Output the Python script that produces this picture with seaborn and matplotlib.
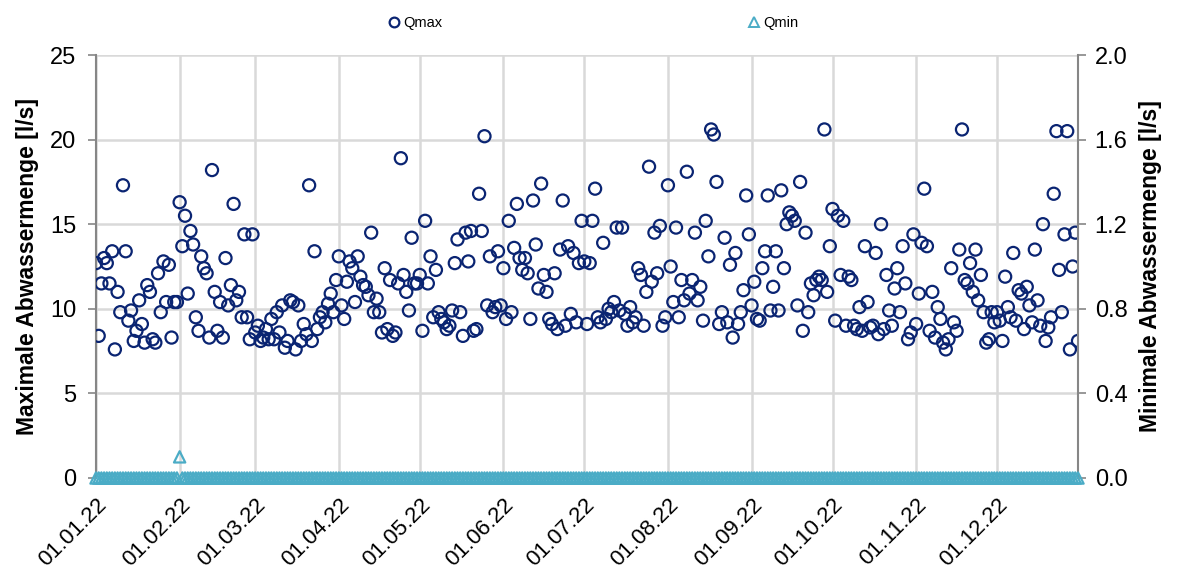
import numpy as np
import pandas as pd
import matplotlib
matplotlib.use("Agg")
import matplotlib.pyplot as plt
import matplotlib.dates as mdates
from matplotlib.lines import Line2D
from matplotlib.ticker import FormatStrFormatter
import seaborn as sns

# daily maximum flow [l/s]
jan = [12.7, 8.4, 11.5, 13.0, 12.7, 11.5, 13.4, 7.6, 11.0, 9.8, 17.3, 13.4, 9.3, 9.9, 8.1, 8.7,
       10.5, 9.1, 8.0, 11.4, 11.0, 8.2, 8.0, 12.1, 9.8, 12.8, 10.4, 12.6, 8.3, 10.4, 10.4]
feb = [16.3, 13.7, 15.5, 10.9, 14.6, 13.8, 9.5, 8.7, 13.1, 12.4, 12.1, 8.3, 18.2, 11.0, 8.7, 10.4,
       8.3, 13.0, 10.2, 11.4, 16.2, 10.5, 11.0, 9.5, 14.4, 9.5, 8.2, 14.4]
mar = [8.6, 9.0, 8.1, 8.3, 8.8, 8.2, 9.4, 8.2, 9.8, 8.6, 10.2, 7.7, 8.1, 10.5, 10.4, 7.6,
       10.2, 8.1, 9.1, 8.5, 17.3, 8.1, 13.4, 8.8, 9.5, 9.8, 9.2, 10.3, 10.9, 9.8, 11.7]
apr = [13.1, 10.2, 9.4, 11.6, 12.8, 12.4, 10.4, 13.1, 11.9, 11.4, 11.3, 10.8, 14.5, 9.8, 10.6,
       9.8, 8.6, 12.4, 8.8, 11.7, 8.4, 8.6, 11.5, 18.9, 12.0, 11.0, 9.9, 14.2, 11.5, 11.5]
may = [12.0, 8.7, 15.2, 11.5, 13.1, 9.5, 12.3, 9.8, 9.4, 9.2, 8.8, 9.0, 9.9, 12.7, 14.1, 9.8,
       8.4, 14.5, 12.8, 14.6, 8.7, 8.8, 16.8, 14.6, 20.2, 10.2, 13.1, 9.8, 10.1, 13.4, 10.2]
jun = [12.4, 9.4, 15.2, 9.8, 13.6, 16.2, 13.0, 12.3, 13.0, 12.1, 9.4, 16.4, 13.8, 11.2, 17.4,
       12.0, 11.0, 9.4, 9.1, 12.1, 8.8, 13.5, 16.4, 9.0, 13.7, 9.7, 13.3, 9.2, 12.7, 15.2]
jul = [12.8, 9.1, 12.7, 15.2, 17.1, 9.5, 9.2, 13.9, 9.4, 10.0, 9.8, 10.4, 14.8, 9.9, 14.8, 9.7,
       9.0, 10.1, 9.2, 9.5, 12.4, 12.0, 9.0, 11.0, 18.4, 11.6, 14.5, 12.1, 14.9, 9.0, 9.5]
aug = [17.3, 12.5, 10.4, 14.8, 9.5, 11.7, 10.5, 18.1, 10.9, 11.7, 14.5, 10.5, 11.3, 9.3, 15.2,
       13.1, 20.6, 20.3, 17.5, 9.1, 9.8, 14.2, 9.2, 12.6, 8.3, 13.3, 9.1, 9.8, 11.1, 16.7, 14.4]
sep = [10.2, 11.6, 9.4, 9.3, 12.4, 13.4, 16.7, 9.9, 11.3, 13.4, 9.9, 17.0, 12.4, 15.0, 15.7,
       15.5, 15.2, 10.2, 17.5, 8.7, 14.5, 9.8, 11.5, 10.8, 11.7, 11.9, 11.7, 20.6, 11.0, 13.7]
oct_ = [15.9, 9.3, 15.5, 12.0, 15.2, 9.0, 11.9, 11.7, 9.0, 8.8, 10.1, 8.7, 13.7, 10.4, 8.9, 9.0,
        13.3, 8.5, 15.0, 8.8, 12.0, 9.9, 9.0, 11.2, 12.4, 9.8, 13.7, 11.5, 8.2, 8.6, 14.4]
nov = [9.1, 10.9, 13.9, 17.1, 13.7, 8.7, 11.0, 8.3, 10.1, 9.4, 8.0, 7.6, 8.2, 12.4, 9.2, 8.7,
       13.5, 20.6, 11.7, 11.5, 12.7, 11.0, 13.5, 10.5, 12.0, 9.8, 8.0, 8.2, 9.8, 9.2]
dec = [9.8, 9.3, 8.1, 11.9, 10.1, 9.5, 13.3, 9.3, 11.1, 10.9, 8.8, 11.3, 10.2, 9.2, 13.5, 10.5,
       9.0, 15.0, 8.1, 8.9, 9.5, 16.8, 20.5, 12.3, 9.8, 14.4, 20.5, 7.6, 12.5, 14.5, 8.1]

# daily minimum flow [l/s]: zero every day except 01.02.22
qmin_peak_day = "2022-02-01"
qmin_peak_value = 0.1

dates = pd.date_range("2022-01-01", "2022-12-31", freq="D")
qmax = jan + feb + mar + apr + may + jun + jul + aug + sep + oct_ + nov + dec
qmin = np.zeros(len(dates))
qmin[dates == pd.Timestamp(qmin_peak_day)] = qmin_peak_value

df = pd.DataFrame({"Datum": dates, "Qmax": qmax, "Qmin": qmin})

navy = "#0a2472"
aqua = "#4bacc6"
grey = "#868686"

sns.set_theme(style="white")
plt.rcParams["font.family"] = ["Liberation Sans", "DejaVu Sans"]
plt.rcParams["text.color"] = "black"
plt.rcParams["axes.labelcolor"] = "black"
plt.rcParams["xtick.color"] = "black"
plt.rcParams["ytick.color"] = "black"

fig = plt.figure(figsize=(11.77, 5.78), dpi=100)
ax = fig.add_axes([96 / 1177, 1 - 478 / 578, (1078 - 96) / 1177, (478 - 55) / 578])
ax2 = ax.twinx()

sns.scatterplot(data=df, x="Datum", y="Qmax", ax=ax, marker="o", s=76,
                fc="none", ec=navy, linewidth=1.6, legend=False, zorder=3)
sns.scatterplot(data=df, x="Datum", y="Qmin", ax=ax2, marker="^", s=66,
                fc="none", ec=aqua, linewidth=1.6, legend=False, clip_on=False, zorder=3)

ax.set_xlim(pd.Timestamp("2022-01-01"), pd.Timestamp("2022-12-31"))
ax.set_ylim(0, 25)
ax.set_yticks(range(0, 26, 5))
ax2.set_ylim(0, 2.0)
ax2.set_yticks(np.arange(0, 2.01, 0.4))
ax2.yaxis.set_major_formatter(FormatStrFormatter("%.1f"))

ax.xaxis.set_major_locator(mdates.MonthLocator())
ax.xaxis.set_major_formatter(mdates.DateFormatter("%d.%m.%y"))
plt.setp(ax.get_xticklabels(), rotation=45, ha="right", rotation_mode="anchor")

ax.grid(True, color="#d9d9d9", linewidth=1.8)
ax.set_axisbelow(True)
ax2.grid(False)

for a in (ax, ax2):
    for side in ("top", "bottom"):
        a.spines[side].set_visible(False)
ax.spines["right"].set_visible(False)
ax.spines["left"].set_color(grey)
ax.spines["left"].set_linewidth(1.5)
ax2.spines["left"].set_visible(False)
ax2.spines["right"].set_color(grey)
ax2.spines["right"].set_linewidth(1.5)

ax.tick_params(axis="y", left=True, length=6, width=1.2, color=grey, labelsize=17, pad=8)
ax.tick_params(axis="x", bottom=False, labelsize=16, pad=6)
ax2.tick_params(axis="y", right=True, length=6, width=1.2, color=grey, labelsize=17, pad=6)

ax.set_xlabel("")
ax.set_ylabel("Maximale Abwassermenge [l/s]", fontsize=16.5, fontweight="bold", labelpad=8)
ax2.set_ylabel("Minimale Abwassermenge [l/s]", fontsize=16.5, fontweight="bold", labelpad=8)

handles = [
    Line2D([], [], marker="o", ls="none", mfc="none", mec=navy, ms=7, mew=1.6),
    Line2D([], [], marker="^", ls="none", mfc="none", mec=aqua, ms=7, mew=1.4),
]
fig.legend(handles, ["Qmax", "Qmin"], loc="upper center", bbox_to_anchor=(0.504, 0.995),
           ncol=2, frameon=False, fontsize=10.5, handlelength=0.8, handletextpad=0.2,
           columnspacing=21)

fig.savefig("out.png", dpi=100)
plt.close(fig)
